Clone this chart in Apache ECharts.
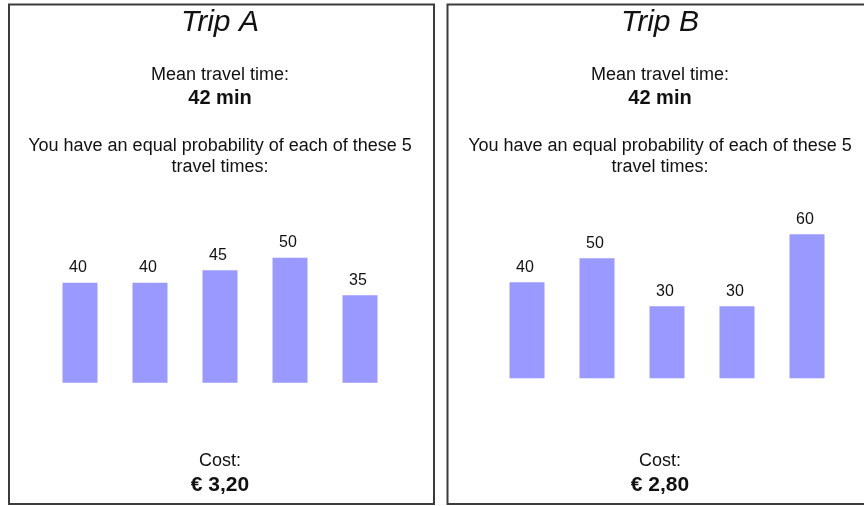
<!DOCTYPE html>
<html>
<head>
<meta charset="utf-8">
<title>Trip A / Trip B</title>
<script src="https://cdn.jsdelivr.net/npm/echarts@6/dist/echarts.min.js"></script>
<style>
  html, body { margin: 0; padding: 0; background: #fff; }
  #chart { width: 864px; height: 506px; }
</style>
</head>
<body>
<div id="chart"></div>
<script>
// data
const categories = ["1", "2", "3", "4", "5"];
const tripATimes = [40, 40, 45, 50, 35];
const tripBTimes = [40, 50, 30, 30, 60];
const tripNames = ["Trip A", "Trip B"];
const meanTimes = ["42 min", "42 min"];
const costs = ["€ 3,20", "€ 2,80"];

const font = "Liberation Sans, Arial, sans-serif";
const barColor = "#9999ff";

// panel centres (x) and frame rectangles
const panelCenters = [220, 660];
const frames = [
  { x: 9, y: 4.5, width: 425, height: 499.5 },
  { x: 447.5, y: 4.5, width: 430, height: 499.5 },
];

function panelTexts(i) {
  const cx = panelCenters[i];
  const txt = (text, y, size, weight, style) => ({
    type: "text",
    x: cx,
    y: y,
    silent: true,
    style: {
      text: text,
      align: "center",
      verticalAlign: "middle",
      fill: "#111",
      fontFamily: font,
      fontSize: size,
      fontWeight: weight || "normal",
      fontStyle: style || "normal",
    },
  });
  return [
    txt(tripNames[i], 23, 30, "normal", "italic"),
    txt("Mean travel time:", 75, 18),
    txt(meanTimes[i], 98, 20, "bold"),
    txt("You have an equal probability of each of these 5", 146, 18),
    txt("travel times:", 167, 18),
    txt("Cost:", 461, 18),
    txt(costs[i], 485, 21, "bold"),
  ];
}

function barSeries(data, idx) {
  return {
    type: "bar",
    xAxisIndex: idx,
    yAxisIndex: idx,
    data: data,
    barWidth: 35,
    itemStyle: { color: barColor },
    label: {
      show: true,
      position: "top",
      distance: 7,
      offset: [-2, 0],
      color: "#111",
      fontFamily: font,
      fontSize: 16,
    },
  };
}

const chart = echarts.init(document.getElementById("chart"));

const option = {
  backgroundColor: "#fff",
  animation: false,
  grid: [
    { left: 45, width: 350, top: 232.7, height: 150 },
    { left: 492, width: 350, top: 234.3, height: 144 },
  ],
  xAxis: [0, 1].map((i) => ({
    type: "category",
    gridIndex: i,
    data: categories,
    show: false,
  })),
  yAxis: [0, 1].map((i) => ({
    type: "value",
    gridIndex: i,
    min: 0,
    max: 60,
    show: false,
  })),
  series: [barSeries(tripATimes, 0), barSeries(tripBTimes, 1)],
  graphic: [
    ...frames.map((f) => ({
      type: "rect",
      silent: true,
      shape: f,
      style: { fill: "none", stroke: "#3c3c3c", lineWidth: 2 },
    })),
    ...panelTexts(0),
    ...panelTexts(1),
  ],
};

chart.setOption(option);
</script>
</body>
</html>
